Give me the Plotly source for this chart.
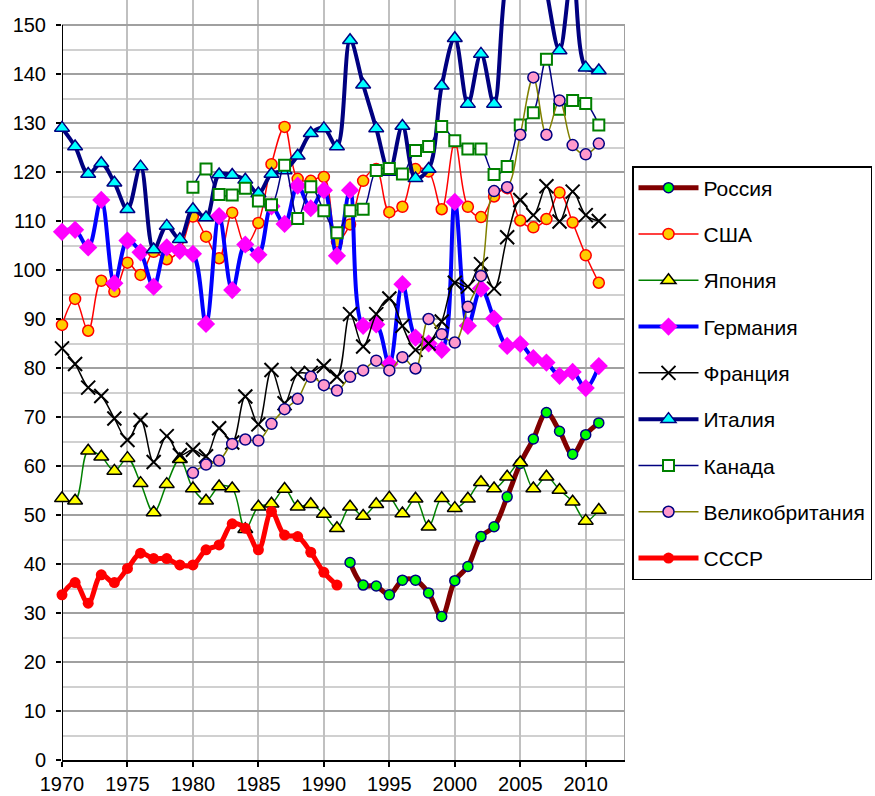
import plotly.graph_objects as go

years = list(range(1970, 2012))

russia = [None] * 22 + [40.3, 35.7, 35.5, 33.7, 36.7, 36.7, 34.1, 29.3, 36.6, 39.5,
                        45.6, 47.6, 53.7, 60.5, 65.5, 70.9, 67.1, 62.4, 66.4, 68.8]
usa = [88.8, 94.1, 87.6, 97.8, 95.6, 101.5, 99.0, 103.7, 102.2, 104.1,
       110.9, 106.8, 102.4, 111.7, 105.0, 109.6, 121.6, 129.2, 118.6, 118.2,
       119.0, 105.8, 109.3, 118.2, 120.6, 111.8, 112.9, 120.6, 120.1, 112.4,
       126.1, 112.9, 110.8, 115.0, 116.7, 110.1, 108.7, 110.4, 115.8, 109.7,
       103.0, 97.4]
japan = [53.4, 52.9, 63.1, 61.9, 59.0, 61.6, 56.5, 50.5, 56.3, 61.4,
         55.4, 52.9, 55.8, 55.4, 47.1, 51.7, 52.3, 55.3, 51.7, 52.2,
         50.2, 47.3, 51.7, 49.8, 52.2, 53.5, 50.3, 53.3, 47.6, 53.4,
         51.4, 53.3, 56.7, 55.4, 57.8, 60.7, 55.4, 57.8, 55.1, 52.7,
         48.8, 51.0]
germany = [107.8, 108.2, 104.6, 114.3, 97.3, 106.0, 103.6, 96.6, 104.6, 103.9,
           103.3, 89.0, 111.0, 95.9, 105.2, 103.1, 113.0, 109.4, 117.2, 112.6,
           116.3, 102.9, 116.3, 88.6, 88.9, 80.8, 97.1, 86.2, 85.0, 83.7,
           113.9, 88.6, 96.2, 90.1, 84.5, 84.9, 82.0, 81.1, 78.4, 79.2,
           75.9, 80.4]
france = [84.0, 80.8, 76.0, 74.3, 69.7, 65.3, 69.4, 60.8, 66.1, 62.2,
          63.3, 62.0, 67.7, 64.8, 74.2, 68.5, 79.6, 72.8, 78.8, 79.0,
          80.4, 78.2, 91.0, 84.4, 91.0, 94.2, 88.6, 83.7, 85.0, 89.5,
          97.4, 96.6, 101.2, 96.2, 106.7, 114.3, 111.2, 117.1, 109.9, 116.0,
          111.2, 110.0]
italy = [129.0, 125.2, 119.6, 121.8, 117.8, 112.4, 121.1, 104.2, 109.0, 106.3,
         112.4, 110.7, 119.5, 119.4, 118.4, 115.6, 119.6, 120.3, 123.3, 127.9,
         128.9, 125.2, 146.9, 137.8, 128.9, 120.0, 129.4, 118.7, 120.6, 137.6,
         147.3, 133.9, 144.1, 133.9, 160.0, 166.0, 170.0, 157.0, 144.8, 161.0,
         141.3, 140.7]
canada = [None] * 10 + [116.9, 120.6, 115.4, 115.3, 116.7, 114.1, 113.3, 121.4, 110.5, 117.0,
                        112.1, 107.6, 112.1, 112.4, 120.3, 120.7, 119.6, 124.4, 125.2, 129.3,
                        126.4, 124.7, 124.7, 119.5, 121.1, 129.6, 132.1, 143.0, 132.8, 134.6,
                        134.0, 129.6]
uk = [None] * 10 + [58.6, 60.3, 61.1, 64.5, 65.4, 65.2, 68.6, 71.6, 73.7, 78.2,
                    76.5, 75.4, 78.2, 79.5, 81.5, 79.5, 82.2, 79.9, 90.0, 86.9,
                    85.2, 92.5, 98.8, 116.1, 116.9, 127.6, 139.3, 127.6, 134.6, 125.5,
                    123.6, 125.8]
ussr = [33.7, 36.2, 32.0, 37.8, 36.2, 39.1, 42.2, 41.1, 41.1, 39.8,
        39.8, 42.9, 43.9, 48.2, 47.3, 42.9, 50.7, 45.9, 45.6, 42.4,
        38.3, 35.7] + [None] * 20

x_ticks = list(range(1970, 2011, 5))
y_ticks = list(range(0, 151, 10))
y_minor = list(range(5, 150, 10))

series = [
    ("Россия", russia, dict(color="#800000", width=5),
     dict(symbol="circle", size=10, color="#00ff00", line=dict(color="#000080", width=1.5))),
    ("США", usa, dict(color="#ff0000", width=1.5),
     dict(symbol="circle", size=11, color="#ffcc00", line=dict(color="#ff0000", width=1.5))),
    ("Япония", japan, dict(color="#008000", width=1.5),
     dict(symbol="triangle-up", size=13, color="#ffff00", line=dict(color="#000000", width=1.5))),
    ("Германия", germany, dict(color="#0000ff", width=4),
     dict(symbol="diamond", size=14, color="#ff00ff", line=dict(color="#ff00ff", width=0))),
    ("Франция", france, dict(color="#000000", width=1.5),
     dict(symbol="x-thin-open", size=14, color="#000000", line=dict(color="#000000", width=2))),
    ("Италия", italy, dict(color="#000080", width=4),
     dict(symbol="triangle-up", size=13, color="#00ffff", line=dict(color="#000080", width=1.5))),
    ("Канада", canada, dict(color="#000080", width=1.5),
     dict(symbol="square", size=11, color="#ffffff", line=dict(color="#008000", width=2))),
    ("Великобритания", uk, dict(color="#808000", width=1.5),
     dict(symbol="circle", size=11, color="#ff99cc", line=dict(color="#000080", width=1.5))),
    ("СССР", ussr, dict(color="#ff0000", width=5),
     dict(symbol="circle", size=11, color="#ff0000", line=dict(color="#ff0000", width=0))),
]

fig = go.Figure()
for i, (name, vals, ln, mk) in enumerate(series):
    fig.add_trace(go.Scatter(
        x=years, y=vals, name=name, mode="lines+markers",
        line=dict(shape="spline", smoothing=1.0, **ln),
        marker=mk, cliponaxis=False, connectgaps=False,
        legendgroup=f"g{i}",
    ))

Y_TOP = 150 * 760 / 735

fig.update_layout(
    width=875, height=796,
    margin=dict(l=62, r=250, t=0, b=36, autoexpand=False),
    paper_bgcolor="white", plot_bgcolor="white",
    font=dict(family="Liberation Sans, Arial, sans-serif", size=20, color="black"),
    showlegend=True,
    legend=dict(
        x=(632 - 62) / 563, y=(760 - 166) / 760, xanchor="left", yanchor="top",
        bordercolor="black", borderwidth=1.5, bgcolor="white",
        font=dict(size=21), tracegroupgap=16, traceorder="grouped",
        itemwidth=60,
    ),
    xaxis=dict(
        range=[1970, 2013], tickmode="array", tickvals=x_ticks,
        ticktext=[str(v) for v in x_ticks],
        showgrid=True, gridcolor="#c0c0c0", gridwidth=2,
        showline=True, linecolor="black", linewidth=2,
        ticks="outside", ticklen=5, tickcolor="black", tickwidth=2,
        zeroline=False, ticklabelstandoff=0,
    ),
    yaxis=dict(
        range=[0, Y_TOP], tickmode="array", tickvals=y_ticks,
        ticktext=[str(v) for v in y_ticks],
        showgrid=True, gridcolor="#a0a0a0", gridwidth=2,
        showline=False, ticks="outside", ticklen=5, tickcolor="black", tickwidth=2,
        zeroline=False, ticklabelstandoff=6,
        minor=dict(tickmode="array", tickvals=y_minor, showgrid=True,
                   gridcolor="#d0d0d0", gridwidth=2, ticks=""),
    ),
)

fig.add_shape(type="line", xref="x", yref="y", x0=1970, x1=1970, y0=0, y1=150,
              line=dict(color="black", width=2), layer="between")
fig.add_shape(type="line", xref="x", yref="y", x0=2013, x1=2013, y0=0, y1=150,
              line=dict(color="#a0a0a0", width=2), layer="between")

fig.write_html("out.html", config={"displayModeBar": False},
               post_script="document.body.style.margin='0';")
